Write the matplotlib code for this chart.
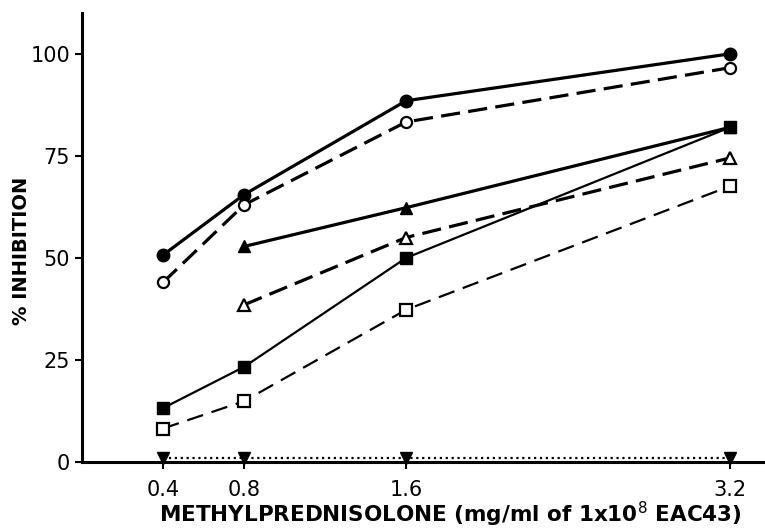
import matplotlib
matplotlib.use("Agg")
import matplotlib.pyplot as plt
import numpy as np

x = [0.4, 0.8, 1.6, 3.2]
filled_circle = [50.7, 65.5, 88.5, 100.0]
open_circle = [44.0, 63.0, 83.3, 96.6]
filled_triangle = [np.nan, 52.8, 62.3, 82.0]
open_triangle = [np.nan, 38.5, 55.0, 74.5]
filled_square = [13.2, 23.3, 50.0, 82.0]
open_square = [8.2, 14.9, 37.3, 67.6]
inv_triangle = [0.0, 0.0, 0.0, 0.0]

xticks = [0.4, 0.8, 1.6, 3.2]
xticklabels = ["0.4", "0.8", "1.6", "3.2"]
yticks = [0, 25, 50, 75, 100]
yticklabels = ["0", "25", "50", "75", "100"]

plt.rcParams['font.family'] = ['DejaVu Sans']

fig = plt.figure(figsize=(7.65, 5.29), dpi=100)
ax = fig.add_axes([82/765, 67/529, 683/765, 449/529])

dash = (6, 2.6)
ax.plot(x, filled_circle, color='black', lw=2.3, marker='o', ms=9, mfc='black', mec='black', zorder=3)
ax.plot(x, open_circle, color='black', lw=2.3, marker='o', ms=8, mfc='white', mec='black', mew=1.6,
        dashes=dash, zorder=3)
ax.plot(x, filled_triangle, color='black', lw=2.3, marker='^', ms=9, mfc='black', mec='black', zorder=3)
ax.plot(x, open_triangle, color='black', lw=2.3, marker='^', ms=8, mfc='white', mec='black', mew=1.6,
        dashes=dash, zorder=3)
ax.plot(x, filled_square, color='black', lw=1.6, marker='s', ms=8, mfc='black', mec='black', zorder=3)
ax.plot(x, open_square, color='black', lw=1.6, marker='s', ms=8, mfc='white', mec='black', mew=1.6,
        dashes=(7.5, 4), zorder=3)
y_inv = [v + 1.0 for v in inv_triangle]
ax.plot(x, y_inv, color='black', lw=1.6, ls=':', marker='v', ms=8, mfc='black', mec='black',
        zorder=3, clip_on=False)

ax.set_xlim(0, 3.372)
ax.set_ylim(0, 110)
ax.spines['top'].set_visible(False)
ax.spines['right'].set_visible(False)
ax.spines['left'].set_linewidth(2.2)
ax.spines['bottom'].set_linewidth(2.2)

ax.set_xticks(xticks)
ax.set_xticklabels(xticklabels, fontsize=15)
ax.set_yticks(yticks)
ax.set_yticklabels(yticklabels, fontsize=15)
ax.tick_params(axis='both', direction='out', length=5, width=1.5, colors='black')
ax.tick_params(axis='x', pad=8)

ax.set_xlabel("METHYLPREDNISOLONE (mg/ml of 1x10$^{8}$ EAC43)", fontsize=15.5, fontweight='bold')
ax.xaxis.set_label_coords(0.54, -0.085)
ax.set_ylabel("% INHIBITION", fontsize=14, fontweight='bold')
ax.yaxis.set_label_coords(-0.075, 0.47)

fig.savefig("out.png", dpi=100)
